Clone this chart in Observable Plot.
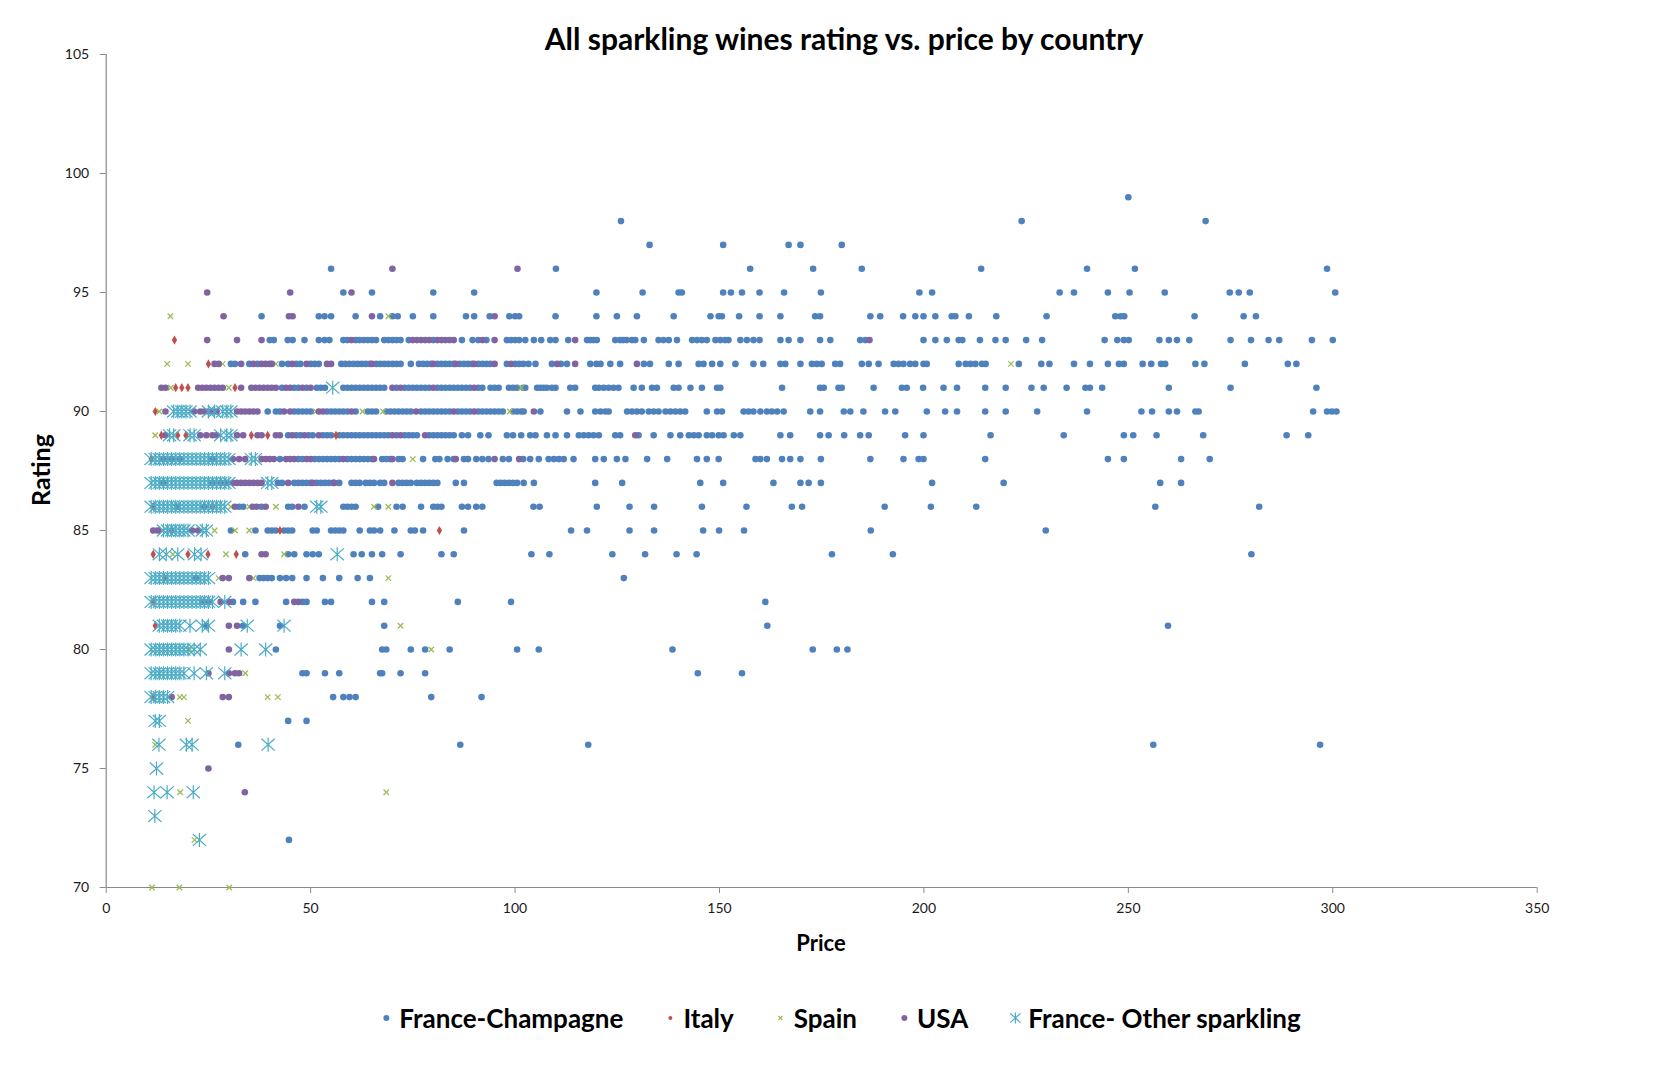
<!DOCTYPE html>
<html><head><meta charset="utf-8">
<script src="https://cdn.jsdelivr.net/npm/d3@7"></script>
<script src="https://cdn.jsdelivr.net/npm/@observablehq/plot@0.6"></script>
<style>
body{margin:0;background:#fff;font-family:Lato,"Open Sans",sans-serif;}
#wrap{position:relative;width:1654px;height:1076px;overflow:hidden;}
#title{position:absolute;left:844px;top:38px;transform:translate(-50%,-50%);font-weight:bold;font-size:30px;white-space:nowrap;color:#000;}
#ylab{position:absolute;left:40px;top:470px;transform:translate(-50%,-50%) rotate(-90deg);font-weight:bold;font-size:25px;color:#000;}
#xlab{position:absolute;left:821px;top:942px;transform:translate(-50%,-50%);font-weight:bold;font-size:22px;color:#000;}
#legend{position:absolute;left:840px;top:1018px;transform:translate(-50%,-50%);display:flex;align-items:center;white-space:nowrap;font-weight:bold;font-size:26px;color:#000;}
#legend .item{display:flex;align-items:center;margin-right:40px;}
#legend .item:last-child{margin-right:0;}
#legend svg{margin-right:6px;}
#chart{position:absolute;left:0;top:0;}
</style></head><body>
<div id="wrap">
<div id="chart"></div>
<div id="title">All sparkling wines rating vs. price by country</div>
<div id="ylab">Rating</div>
<div id="xlab">Price</div>
<div id="legend"></div>
</div>
<script>
// ---- data: [rating, "prices ..."] per country ----
const seriesNames = ["France-Champagne", "Italy", "Spain", "USA", "France- Other sparkling"];
const seriesColors = ["#4F81BD", "#C0504D", "#9BBB59", "#8064A2", "#4BACC6"];
const xTicks = [0, 50, 100, 150, 200, 250, 300, 350];
const yTicks = [70, 75, 80, 85, 90, 95, 100, 105];

const champagne = [
 [99, "250"],
 [98, "125.9 223.9 268.9"],
 [97, "132.9 150.9 166.9 169.8 179.9"],
 [96, "55 110 157.5 172.9 184.8 214 239.9 251.6 298.6"],
 [95, "58 65 80 90 119.9 131.2 140 140.8 150.9 152.8 155.5 159.8 165.8 174.8 198.9 202 233.2 236.7 245 250.3 258.9 274.8 277 279.7 300.6"],
 [94, "38 52 53.4 55 61 67 70 71.3 75 80 88 90 93.8 98.6 100 101 109.9 119.9 124.9 129.8 138.8 147.8 149.8 150.6 154.8 159.8 164.9 173.4 174.6 186.9 189.3 194.9 197.9 199.9 202.8 206.8 207.7 211 217.7 230 246.8 248.1 249 266.2 278.2 281.2"],
 [93, "40 41 44.4 45.6 48.5 52 53.4 54.6 58 59 61 62 63 64 65 66 68 69 70 71 72 74 80 87 89.6 91 93 98 99 100 101 102.5 104.6 106.4 108.6 109.9 113 117.6 118.4 119.2 120 124.5 125.7 126.5 127.3 128.6 129.4 131.5 135.1 136.3 137.6 139.6 143.3 144.5 145.7 146.9 149 150.2 151.4 152.2 155.1 156.7 158.3 159.8 164.9 166.9 169.8 174.6 177.1 184.4 185.7 199.9 202.8 205.6 208.5 209.4 213.7 217.5 220 225 228.9 244.2 247.3 248.9 250.1 257.6 259.9 261.9 264.9 275 280 284.3 286.9 294.9 300"],
 [92, "30.5 31.5 35 37 43 44.5 46.5 47.5 50 51 52 57.5 58.5 59.5 60.5 61.5 62.5 63.5 64.5 66 67 68 69 70 71 72 74.5 76.5 77.5 78.5 79.5 81 82 83 84 85 86.5 87.5 88.5 89.5 91 92 93 94 98 100 101 102 103.3 105 109 111.2 112.7 118.4 119.9 120.9 123.3 125.7 131.5 133 137.6 140 144.9 146.1 148.2 150.2 153.9 158.3 160.7 164.9 166.1 169.8 172.6 173.8 175 178.3 179.5 184.8 186.5 188.9 192.6 193.8 195 196.6 197.9 199.9 200.7 208.5 210.2 211.4 212.6 214.2 215.1 223.2 228.7 230.7 236.7 240.6 245 247.7 248.9 253.5 255.6 258 259 266.4 268.6 278.5 289 291.1"],
 [91, "43 46 47 49 51.5 52.5 53.5 58 59 60 61 62 63 64 65 66 67 68 71 73 74 75 76 77 78 79 81 82 83 84 85 86 87 88 89 91 92 94 95 96 98.5 99.5 100.5 102 102.5 105.4 106.2 107 107.8 109 109.9 113.5 114.7 119.6 120.5 121.7 122.9 124.1 125.3 129 131 133.5 134.7 138.8 140 142.9 145.7 149.4 150.2 165.3 174.6 175.5 179.1 179.9 187.7 194.6 195.8 199.8 204.8 208.1 215 220 226.3 229.3 234.9 239.5 240.6 243.6 259.9 275 296"],
 [90, "39.5 41.5 42.5 46 47 48 49 50 54 55 56 57 58 59 61 64 65 66 68.5 69.5 70.5 71.5 72.5 73.5 74.5 77 78 79 80 81 82 83 84 86 87 88 89 91 92 93 94 95 96 97 99.5 100.5 101.5 102.1 106.2 112.7 116 119.6 120.9 122.1 122.9 127.4 128.6 129.8 131 132.7 133.9 135.1 136.8 138 139.2 140.4 141.6 146.9 149.4 150.6 155.9 157.1 158.3 160 161.6 162.8 164.1 165.7 172.2 174.6 180.4 182 185.2 190.5 193 200.7 205.2 208.1 215 220 227.7 239.9 253.2 255.8 259.9 261.9 266.4 267.2 295.2 298.6 299.8 300.9"],
 [89, "44.5 46.5 47.5 49.5 50.5 53 54 55 57 58 59 60 61 62 63 64 65 66 67 68 69 71 73 74 75 76 79 80 81 82 83 84 85 87 88.5 91.5 93.5 98 99.5 101.5 103.7 105 107.8 109.9 112.7 115.6 116.8 118 119.2 120.5 124.5 125.7 130.2 133.9 138 140.4 142.5 143.7 144.9 146.9 148.2 149.8 151 153.5 155.1 164.9 167.3 174.6 176.7 180.5 184.4 186.5 195.4 199.9 216.3 234.2 248.9 251.2 256.9 268.3 288.7 294"],
 [88, "42.5 47 48 51 52 53 54 55 56 57 59 60 61 62 63 64 65 67.5 68.5 69.5 71.5 72.5 77.5 80.5 81.5 83.5 85 87.5 88.5 90.5 92 93.5 97 98.5 102 103.7 105.8 108.2 109.5 110.7 111.9 114.3 119.6 121.7 124.9 127 132.3 137.2 144.5 146.9 149.8 158.8 160 161.6 165.3 167.3 169.8 174.8 186.9 195 198.7 199.9 215 245 248.9 262.9 269.9"],
 [87, "42 43 46 47 48 49 50 51.5 52.5 53.5 54.5 55.5 57 60 61 62 63.5 64.5 65.5 67 68 71.5 72.5 73.5 74.5 76 77 78 79 80 81 85.5 87.5 95.5 96.5 97.5 98.5 99.5 100.5 102.1 104.6 119.6 126.2 145.3 150.9 163.2 169.8 171.8 174.8 202 219.5 257.8 262.9"],
 [86, "32.5 33.5 38 44.5 45.5 48.5 58 59 60 61 66.5 71 72.5 77 80 81 82 87 88.5 90.5 92 104.5 106 120 128 134 145.7 156.6 167.7 170.2 190.4 201.7 212.8 256.6 282"],
 [85, "30.5 36.5 39.5 40.5 41.5 43.5 44.5 45.5 50.5 51.5 55 56 57 58 62 64.5 65.5 67 70.5 74.5 75.5 77.5 87.5 113.7 117.6 128 134 146 149.9 156 187 229.8"],
 [84, "34 44.5 46 49 50.5 52 60.5 62.5 65 67.5 72 82 85 104 108.4 123.8 131.8 139.5 144.4 177.5 192.4 280.1"],
 [83, "37.5 38.5 39.5 40.5 42.5 44 45.5 49 53 57 61.5 64.5 126.6"],
 [82, "31 33.5 36.5 44 48 49 53.5 55 65 68 86 99 161.2"],
 [81, "24.5 33.5 42.5 68 161.7 259.7"],
 [80, "41.5 67.5 68.5 74.5 78 84 100.5 105.8 138.5 172.8 178.7 181.3"],
 [79, "48 49 53.5 57 67 67.5 72 78 144.7 155.5"],
 [78, "55.5 58 59.5 61 79.5 91.8"],
 [77, "44.5 49"],
 [76, "32.3 86.6 117.9 256.1 296.9"],
 [72, "44.7"]
];

const italy = [
 [93, "16.7"],
 [92, "25"],
 [91, "17 18.5 20 31.5"],
 [90, "12"],
 [89, "13.5 17.5 19.5 35.5 39.5 56.2"],
 [88, "11"],
 [86, "11.5 26"],
 [85, "13 16 42.5 81.5"],
 [84, "11.5 20 24.9 31.8"],
 [83, "14.3"],
 [82, "11.5"],
 [81, "12"],
 [78, "11.5"]
];

const spain = [
 [94, "15.7 69"],
 [92, "14.9 20 28.5 41.5 221.3"],
 [91, "15.8 30 101.5"],
 [90, "13 51.3 62.7 67.7 98.7"],
 [89, "12"],
 [88, "75"],
 [86, "17 30.5 35 41.5 65.5 69"],
 [85, "26.5 31.5 35"],
 [84, "16.3 29.3 43.5"],
 [83, "27.5 36 69"],
 [81, "72"],
 [80, "20.5 79.5"],
 [79, "13 34"],
 [78, "18 19 39.5 42"],
 [77, "20"],
 [76, "12"],
 [74, "18.1 68.5"],
 [72, "21.6"],
 [70, "11.2 17.9 30.1"]
];

const usa = [
 [96, "70 100.6"],
 [95, "24.7 45 60"],
 [94, "28.7 44.7 45.6 65 95"],
 [93, "24.7 32 38 60 75 76 77 78 79 81 82 83 84 85 92 95 114.7 186.7"],
 [92, "26.5 27.5 33 36 38 39 40 40.5 45.5 49 54 55 65 80 85.5 90 95 99 110.3 114.7 129.8"],
 [91, "13.5 14.5 22.5 23.5 24.5 25.5 26.5 27.5 28.5 33 35.5 36.5 37.5 38.5 39.5 40.5 41.5 44 45 48 50 70 72 80 90"],
 [90, "14.5 21.5 23 24 25 26 27 32 33 34 35 36 37 43.5 45 52 53 60 75.8 85 90 104.6"],
 [89, "14.5 23 24.5 26 27 32 33.5 37 38 41.5 42.5 45.5 48.5 52 70 72 78 129.4"],
 [88, "14 16 18 26 31 32.5 34 38 39 40 41 44 45 46 49 50 58 65.5 70 85.5 95 101"],
 [87, "14 26 28 29.5 31 32 33 34 35 36 37 38 44.5 50.5 55.8 70"],
 [86, "17.5 24 31.5 35.8 36.8 39 47"],
 [85, "11.5 12.5 21 22.5"],
 [84, "38 39"],
 [83, "22 28.5 30 35"],
 [82, "23.5 25 28 30 46 47"],
 [81, "30 32"],
 [80, "30"],
 [79, "25 30 31.5 32.5"],
 [78, "16 28.5 30"],
 [75, "25"],
 [74, "33.9"]
];

const otherFrance = [
 [91, "55.4"],
 [90, "16.5 17.5 18.5 19.5 20.5 25 26.5 28.5 29.5 30.5"],
 [89, "15.5 16.5 20.5 21.5 28 29.5 30.5"],
 [88, "11 12 13 14 15 16 17 18 19 20 21 22 23 24 25 26 27 28 29 30 35.5 36.5"],
 [87, "11 12 13 14 15 16 17 18 19 20 21 22 23 24 25 26 27 28 29 30 39.5 40.5"],
 [86, "11 12 13 14 15 16 17 18 19 20 21 22 23 24 25 26 27 28 29 51.5 52.5"],
 [85, "14 15 16 17 18 19 20 23.5 24.5"],
 [84, "13 14.7 17.5 21.6 23.2 56.5"],
 [83, "11 12 13 14 15 16 17 18 19 20 21 22 23 24 25"],
 [82, "11 12 13 14 15 16 17 18 19 20 21 22 23 24 25 26 29"],
 [81, "13 14 15 16 17 18 20.5 23.5 25 34.5 43.5"],
 [80, "11 12 13 14 15 16 17 18 19 20 21.5 23 33 39"],
 [79, "11 12 13 14 15 16 17 18 19 21.5 24.5 29"],
 [78, "11 12 13 14 15"],
 [77, "12 13"],
 [76, "12.9 19.6 21 39.6"],
 [75, "12.3"],
 [74, "11.7 14.9 21.3"],
 [73, "11.9"],
 [72, "22.8"]
];

// ---- build records ----
function toRecords(series, list) {
  return list.flatMap(([rating, s]) => s.trim().split(/\s+/).map(p => ({series, price: +p, rating})));
}
const recChamp = toRecords(seriesNames[0], champagne);
const recItaly = toRecords(seriesNames[1], italy);
const recSpain = toRecords(seriesNames[2], spain);
const recUsa = toRecords(seriesNames[3], usa);
const recOther = toRecords(seriesNames[4], otherFrance);

// Excel-like "star" marker: X with a vertical bar
const starSymbol = {
  draw(ctx, size) {
    const h = Math.sqrt(size / Math.PI);
    const w = h * 0.95;
    ctx.moveTo(-w, -h * 0.85); ctx.lineTo(w, h * 0.85);
    ctx.moveTo(-w, h * 0.85); ctx.lineTo(w, -h * 0.85);
    ctx.moveTo(0, -h); ctx.lineTo(0, h);
  }
};

const W = 1654, H = 960;
const chart = Plot.plot({
  width: W, height: H,
  marginLeft: 105.7, marginRight: W - 1536.7, marginTop: 54, marginBottom: H - 887,
  style: {fontFamily: "Lato, 'Open Sans', sans-serif", fontSize: "14px", background: "white", color: "#1a1a1a"},
  x: {domain: [0, 350]},
  y: {domain: [70, 105]},
  marks: [
    Plot.axisX({ticks: xTicks, tickSize: 6, tickPadding: 10, stroke: "#8a8a8a", label: null, fontSize: 14}),
    Plot.axisY({ticks: yTicks, tickSize: 6, tickPadding: 11, stroke: "#8a8a8a", label: null, fontSize: 14}),
    Plot.ruleX([0], {stroke: "#8a8a8a", strokeWidth: 1.2}),
    Plot.ruleY([70], {stroke: "#8a8a8a", strokeWidth: 1.2}),
    Plot.dot(recChamp, {x: "price", y: "rating", r: 3.3, fill: seriesColors[0], stroke: "none", symbol: "circle"}),
    Plot.dot(recItaly, {x: "price", y: "rating", r: 2.8, fill: seriesColors[1], stroke: "none", symbol: "diamond"}),
    Plot.dot(recSpain, {x: "price", y: "rating", r: 2.6, stroke: seriesColors[2], fill: "none", strokeWidth: 1.3, symbol: "times"}),
    Plot.dot(recUsa, {x: "price", y: "rating", r: 3.3, fill: seriesColors[3], stroke: "none", symbol: "circle"}),
    Plot.dot(recOther, {x: "price", y: "rating", r: 7, stroke: seriesColors[4], fill: "none", strokeWidth: 1.2, symbol: starSymbol})
  ]
});
document.getElementById("chart").appendChild(chart);

// ---- legend ----
const legend = d3.select("#legend");
seriesNames.forEach((name, i) => {
  const item = legend.append("div").attr("class", "item");
  const svg = item.append("svg").attr("width", 14).attr("height", 14).attr("viewBox", "-7 -7 14 14");
  const c = seriesColors[i];
  if (i === 0 || i === 3) svg.append("circle").attr("r", 3).attr("fill", c);
  else if (i === 1) svg.append("circle").attr("r", 2).attr("fill", c);
  else if (i === 2) svg.append("path").attr("d", d3.symbol(d3.symbolTimes, 12)()).attr("stroke", c).attr("stroke-width", 1.2).attr("fill", "none");
  else svg.append("path").attr("d", d3.symbol(starSymbol, Math.PI * 30)()).attr("stroke", c).attr("stroke-width", 1.2).attr("fill", "none");
  item.append("span").text(name);
});
</script>
</body></html>
